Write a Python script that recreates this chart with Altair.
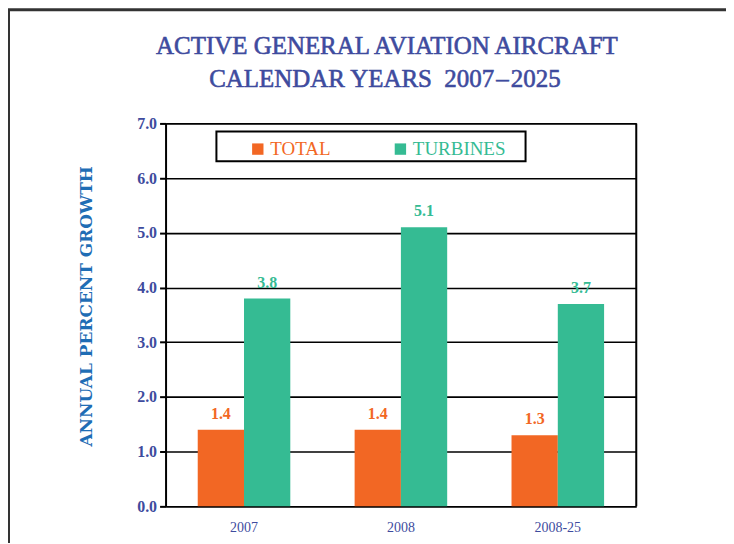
import altair as alt
import pandas as pd

categories = ["2007", "2008", "2008-25"]
series_names = ["TOTAL", "TURBINES"]
total = [1.4, 1.4, 1.3]
turbines = [3.8, 5.1, 3.7]
y_ticks = [0, 1, 2, 3, 4, 5, 6, 7]
colors = ["#F26724", "#35BB93"]
title_lines = ["ACTIVE GENERAL AVIATION AIRCRAFT",
               "CALENDAR YEARS\u00a0 2007\u200a\u2013\u200a2025"]

rows = []
for c, t, u in zip(categories, total, turbines):
    rows.append({"year": c, "series": "TOTAL", "value": t})
    rows.append({"year": c, "series": "TURBINES", "value": u})
df = pd.DataFrame(rows)

SERIF = "Liberation Serif"
BLUE = "#3E4B9E"

color_scale = alt.Scale(domain=series_names, range=colors)

base = alt.Chart(df).encode(
    x=alt.X(
        "year:N",
        sort=categories,
        scale=alt.Scale(paddingInner=0.41, paddingOuter=0.205),
        axis=alt.Axis(
            title=None,
            labelAngle=0,
            ticks=False,
            domain=False,
            labelFont=SERIF,
            labelFontSize=14,
            labelColor=BLUE,
            labelPadding=14,
        ),
    ),
    xOffset=alt.XOffset(
        "series:N",
        sort=series_names,
        scale=alt.Scale(paddingInner=0, paddingOuter=0),
    ),
    y=alt.Y(
        "value:Q",
        scale=alt.Scale(domain=[0, 7], nice=False),
        axis=alt.Axis(
            title="ANNUAL PERCENT GROWTH",
            values=y_ticks,
            format=".1f",
            grid=True,
            gridColor="black",
            gridWidth=1.6,
            domain=True,
            domainColor="black",
            domainWidth=2,
            ticks=True,
            tickSize=6,
            tickColor="black",
            tickWidth=2,
            labelFont=SERIF,
            labelFontWeight="bold",
            labelFontSize=16,
            labelColor=BLUE,
            labelPadding=3,
            titleFont="DejaVu Serif",
            titleFontWeight="bold",
            titleFontSize=17,
            titleColor="#1F6DB5",
            titleAngle=270,
            titleAlign="center",
            titleBaseline="middle",
            titleX=-79,
            titleY=183,
        ),
    ),
    color=alt.Color(
        "series:N",
        scale=color_scale,
        legend=alt.Legend(
            title=None,
            orient="none",
            legendX=83,
            legendY=16,
            direction="horizontal",
            symbolType="square",
            symbolSize=130,
            symbolStrokeWidth=0,
            labelFont=SERIF,
            labelFontSize=19,
            labelColor=alt.ExprRef(
                "datum.value == 'TOTAL' ? '#F26724' : '#35BB93'"
            ),
            labelOffset=3,
            columnPadding=60,
            padding=0,
        ),
    ),
)

bars = base.mark_bar()
labels = base.mark_text(
    dy=-8, baseline="bottom", font=SERIF, fontWeight="bold", fontSize=16
).encode(text=alt.Text("value:Q", format=".1f"))

one = pd.DataFrame({"k": [0]})
legend_box = alt.Chart(one).mark_rect(
    fill="white", stroke="black", strokeWidth=2
).encode(
    x=alt.value(51), x2=alt.value(361), y=alt.value(8), y2=alt.value(38)
)
frame_top = alt.Chart(one).mark_rule(color="#333333", strokeWidth=3).encode(
    x=alt.value(-158), x2=alt.value(600), y=alt.value(-114)
)
frame_left = alt.Chart(one).mark_rule(color="#333333", strokeWidth=3).encode(
    x=alt.value(-157.5), y=alt.value(-114), y2=alt.value(440)
)
right_border = alt.Chart(one).mark_rule(color="black", strokeWidth=2).encode(
    x=alt.value(472), y=alt.value(0), y2=alt.value(384)
)
title1 = alt.Chart(one).mark_text(
    font=SERIF, fontSize=25, color=BLUE, stroke=BLUE, strokeWidth=0.6,
    align="center", baseline="alphabetic"
).encode(x=alt.value(222), y=alt.value(-70), text=alt.value(title_lines[0]))
title2 = alt.Chart(one).mark_text(
    font=SERIF, fontSize=25, color=BLUE, stroke=BLUE, strokeWidth=0.6,
    align="center", baseline="alphabetic"
).encode(x=alt.value(220), y=alt.value(-37), text=alt.value(title_lines[1]))

chart = (
    alt.layer(legend_box, bars, labels, right_border, frame_top, frame_left,
              title1, title2)
    .properties(
        width=472,
        height=384,
        autosize=alt.AutoSizeParams(type="none"),
        padding={"left": 158, "top": 115, "right": 90, "bottom": 36},
    )
    .configure_view(stroke="black", strokeWidth=2)
    .configure(background="white")
)

chart.save("out.html", embed_options={"renderer": "svg", "actions": False})
